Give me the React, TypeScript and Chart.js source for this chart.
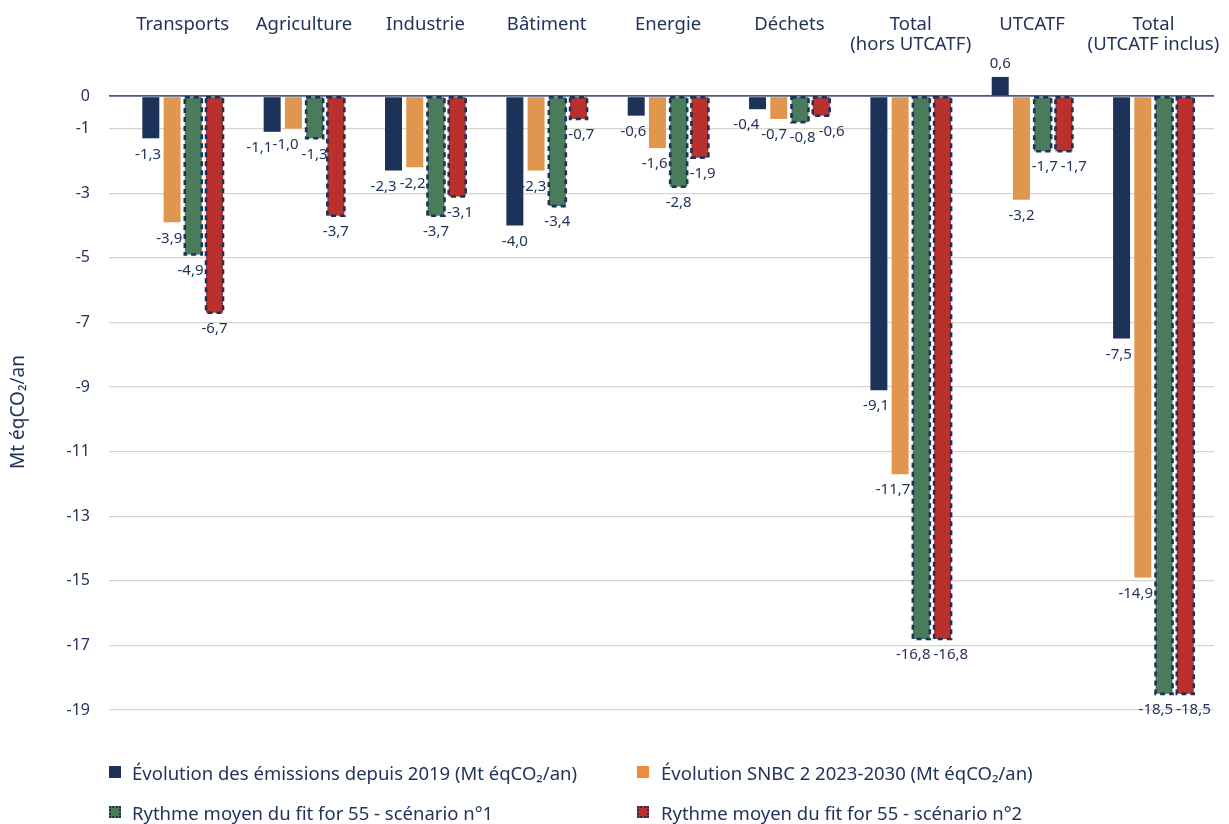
import React, { useEffect, useRef } from "react";
import { Chart, registerables } from "chart.js";

Chart.register(...registerables);

const categories: (string | string[])[] = [
  "Transports",
  "Agriculture",
  "Industrie",
  "Bâtiment",
  "Energie",
  "Déchets",
  ["Total", "(hors UTCATF)"],
  "UTCATF",
  ["Total", "(UTCATF inclus)"],
];

const seriesNames = [
  "Évolution des émissions depuis 2019 (Mt éqCO₂/an)",
  "Évolution SNBC 2 2023-2030 (Mt éqCO₂/an)",
  "Rythme moyen du fit for 55 - scénario n°1",
  "Rythme moyen du fit for 55 - scénario n°2",
];

const emissions2019 = [-1.3, -1.1, -2.3, -4.0, -0.6, -0.4, -9.1, 0.6, -7.5];
const snbc2 = [-3.9, -1.0, -2.2, -2.3, -1.6, -0.7, -11.7, -3.2, -14.9];
const fit55s1 = [-4.9, -1.3, -3.7, -3.4, -2.8, -0.8, -16.8, -1.7, -18.5];
const fit55s2 = [-6.7, -3.7, -3.1, -0.7, -1.9, -0.6, -16.8, -1.7, -18.5];

const yTicks = [0, -1, -3, -5, -7, -9, -11, -13, -15, -17, -19];
const yTitle = "Mt éqCO₂/an";

const NAVY = "#1c3259";
const TEXT = "#22345c";
const barColors = ["#1c3259", "#e0964f", "#4a7b5b", "#b9302d"];
const legendColors = ["#1c3259", "#f08a3c", "#4a7b5b", "#b9302d"];
const dashedSeries = [false, false, true, true];
const FONT = "'Noto Sans', sans-serif";

const fmt = (v: number) => v.toFixed(1).replace(".", ",");

const overlayPlugin = {
  id: "overlay",
  afterDatasetsDraw(chart: any) {
    const ctx = chart.ctx;
    const nCat = chart.data.labels.length;
    // dashed borders
    chart.data.datasets.forEach((ds: any, di: number) => {
      if (!dashedSeries[di]) return;
      const meta = chart.getDatasetMeta(di);
      meta.data.forEach((el: any) => {
        const p = el.getProps(["x", "y", "base", "width"], true);
        ctx.save();
        ctx.strokeStyle = NAVY;
        ctx.lineWidth = 2.6;
        ctx.setLineDash([5, 4]);
        const top = Math.min(p.y, p.base);
        const h = Math.abs(p.base - p.y);
        ctx.strokeRect(p.x - p.width / 2, top, p.width, h);
        ctx.restore();
      });
    });
    // data labels with simple overlap avoidance (labels and bars)
    ctx.save();
    ctx.font = `15px ${FONT}`;
    const halfH = 8;
    for (let c = 0; c < nCat; c++) {
      const items: any[] = [];
      const bars: any[] = [];
      chart.data.datasets.forEach((ds: any, di: number) => {
        const el = chart.getDatasetMeta(di).data[c];
        const p = el.getProps(["x", "y", "base", "width"], true);
        const v = ds.data[c] as number;
        const text = fmt(v);
        const w = ctx.measureText(text).width;
        items.push({ text, x: p.x, y: v < 0 ? p.y + 16 : p.y - 13, w, bar: di });
        bars.push({
          x1: p.x - p.width / 2 - 1.5,
          x2: p.x + p.width / 2 + 1.5,
          y1: Math.min(p.y, p.base),
          y2: Math.max(p.y, p.base),
        });
      });
      for (let k = 0; k < 4; k++) {
        // avoid other bars
        items.forEach((it) => {
          bars.forEach((b, bi) => {
            if (bi === it.bar) return;
            if (it.y + halfH < b.y1 || it.y - halfH > b.y2) return;
            const l = it.x - it.w / 2;
            const r = it.x + it.w / 2;
            if (r > b.x1 && l < b.x2) {
              if (it.x < (b.x1 + b.x2) / 2) it.x -= r - b.x1 + 1;
              else it.x += b.x2 - l + 1;
            }
          });
        });
        // avoid other labels
        for (let i = 0; i < items.length - 1; i++) {
          const a = items[i];
          const b = items[i + 1];
          if (Math.abs(a.y - b.y) < 2 * halfH) {
            const overlap = a.x + a.w / 2 + 3 - (b.x - b.w / 2);
            if (overlap > 0) {
              a.x -= overlap / 2;
              b.x += overlap / 2;
            }
          }
        }
      }
      ctx.fillStyle = TEXT;
      ctx.textAlign = "center";
      ctx.textBaseline = "middle";
      items.forEach((it) => ctx.fillText(it.text, it.x, it.y));
    }
    ctx.restore();
  },
  afterDraw(chart: any) {
    // vertical axis title centred on the figure height
    const ctx = chart.ctx;
    ctx.save();
    ctx.translate(19, chart.height / 2);
    ctx.rotate(-Math.PI / 2);
    ctx.font = `19px ${FONT}`;
    ctx.fillStyle = TEXT;
    ctx.textAlign = "center";
    ctx.textBaseline = "middle";
    ctx.fillText(yTitle, 0, 0);
    ctx.restore();
  },
};

export default function App() {
  const ref = useRef<HTMLCanvasElement | null>(null);

  useEffect(() => {
    if (!ref.current) return;
    const values = [emissions2019, snbc2, fit55s1, fit55s2];
    const chart = new Chart(ref.current, {
      type: "bar",
      data: {
        labels: categories,
        datasets: values.map((d, i) => ({
          label: seriesNames[i],
          data: d,
          backgroundColor: barColors[i],
          borderWidth: 0,
          categoryPercentage: 0.7,
          barPercentage: 0.8,
        })),
      },
      options: {
        animation: false,
        responsive: false,
        maintainAspectRatio: false,
        layout: { padding: { left: 0, right: 14, top: 0, bottom: 114 } },
        plugins: {
          legend: { display: false },
          tooltip: { enabled: false },
        },
        scales: {
          x: {
            position: "top",
            grid: { display: false, drawTicks: false },
            border: { display: false },
            ticks: {
              color: TEXT,
              font: { family: FONT, size: 18.5, lineHeight: 20 / 18.5 },
              padding: 9,
              crossAlign: "far",
              maxRotation: 0,
              autoSkip: false,
            },
            afterFit: (s: any) => {
              s.height = 64;
            },
          },
          y: {
            min: -19,
            max: 1,
            afterBuildTicks: (s: any) => {
              s.ticks = yTicks.map((v) => ({ value: v }));
            },
            afterFit: (s: any) => {
              s.width = 122;
            },
            grid: {
              color: (c: any) => (c.tick && c.tick.value === 0 ? "#4a5a7c" : "#d8d4c8"),
              tickColor: (c: any) => (c.tick && c.tick.value === 0 ? "#4a5a7c" : "#d8d4c8"),
              lineWidth: (c: any) => (c.tick && c.tick.value === 0 ? 1.8 : 1.2),
              drawTicks: true,
              tickLength: 20,
              tickBorderDash: [0, 7, 13, 60],
            },
            border: { display: false },
            ticks: {
              color: TEXT,
              font: { family: FONT, size: 16 },
              padding: 12,
              callback: (v: any) => String(v),
            },
          },
        },
      },
      plugins: [overlayPlugin],
    });
    return () => chart.destroy();
  }, []);

  const legendPos = [
    { left: 109, top: 772 },
    { left: 637, top: 772 },
    { left: 109, top: 812 },
    { left: 637, top: 812 },
  ];

  return (
    <div
      style={{
        position: "absolute",
        left: 0,
        top: 0,
        width: 1229,
        height: 824,
        overflow: "hidden",
        background: "#ffffff",
        fontFamily: FONT,
      }}
    >
      <canvas ref={ref} width={1229} height={824} style={{ position: "absolute", left: 0, top: 0 }} />
      {seriesNames.map((name, i) => (
        <div
          key={i}
          style={{
            position: "absolute",
            left: legendPos[i].left,
            top: legendPos[i].top - 12,
            height: 24,
            display: "flex",
            alignItems: "center",
            whiteSpace: "nowrap",
            color: TEXT,
            fontSize: 18.5,
          }}
        >
          <span
            style={{
              display: "inline-block",
              width: 12,
              height: 12,
              boxSizing: "border-box",
              background: legendColors[i],
              border: dashedSeries[i] ? `2px dotted ${NAVY}` : "none",
              marginRight: i % 2 === 0 ? 11 : 12,
            }}
          />
          <span>{name}</span>
        </div>
      ))}
    </div>
  );
}
